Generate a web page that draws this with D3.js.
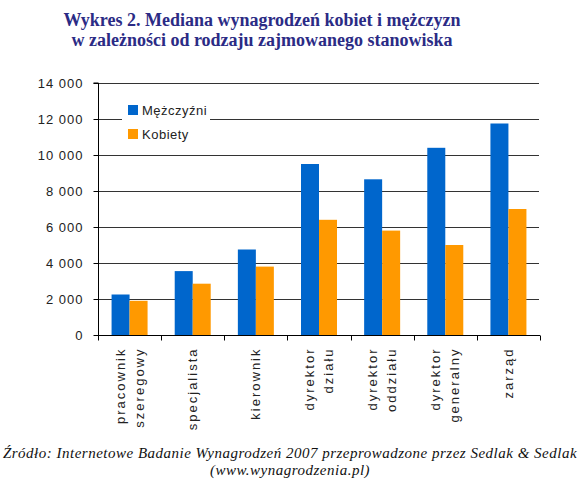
<!DOCTYPE html>
<html><head><meta charset="utf-8">
<script src="https://cdn.jsdelivr.net/npm/d3@7"></script>
<style>body{margin:0;background:#fff}svg{display:block}</style>
</head><body>
<svg id="c" width="580" height="485"></svg>
<script>
const categories = [["pracownik","szeregowy"],["specjalista"],["kierownik"],["dyrektor","działu"],["dyrektor","oddziału"],["dyrektor","generalny"],["zarząd"]];
const men   = [2250, 3550, 4750, 9500, 8650, 10400, 11750];
const women = [1900, 2850, 3800, 6400, 5800, 5000, 7000];
const seriesNames = ["Mężczyźni","Kobiety"];
const seriesColors = ["#0066cc","#ff9900"];
const yTicks = [0,2000,4000,6000,8000,10000,12000,14000];
const titleLines = ["Wykres 2. Mediana wynagrodzeń kobiet i mężczyzn","w zależności od rodzaju zajmowanego stanowiska"];
const sourceLines = ["Źródło: Internetowe Badanie Wynagrodzeń 2007 przeprowadzone przez Sedlak & Sedlak","(www.wynagrodzenia.pl)"];

const svg = d3.select("#c");
const L=98, R=540, T=83, B=335;
const x = d3.scaleBand().domain(d3.range(categories.length)).range([L,R]);
const y = d3.scaleLinear().domain([0,14000]).range([B,T]);
const fmt = v => d3.format(",")(v).replace(/,/g," ");

// title
svg.append("g").selectAll("text").data(titleLines).join("text")
  .attr("x",262).attr("y",(d,i)=>26+i*20).attr("text-anchor","middle")
  .attr("font-family","Liberation Serif, Times New Roman, serif").attr("font-weight","bold")
  .attr("font-size",18).attr("fill","#2b2b85").text(d=>d);

// gridlines
svg.append("g").selectAll("line").data(yTicks.filter(t=>t>0)).join("line")
  .attr("x1",L).attr("x2",R-1).attr("y1",d=>Math.round(y(d))+0.5).attr("y2",d=>Math.round(y(d))+0.5)
  .attr("stroke","#333").attr("stroke-width",1);

// y axis
const ya = svg.append("g").attr("transform",`translate(${L+0.5},0)`)
  .call(d3.axisLeft(y).tickValues(yTicks).tickFormat(fmt).tickSize(5).tickPadding(10));
ya.select(".domain").attr("stroke","#000").attr("d",`M-5,${T}H0V${B}`);
ya.selectAll(".tick line").attr("stroke","#000");
ya.selectAll("text").attr("font-family","Liberation Sans, Arial, sans-serif").attr("font-size",13)
  .attr("letter-spacing",1).attr("fill","#222");

// bars
const inner = d3.scaleBand().domain([0,1]).range([0,36]);
const groups = svg.append("g").selectAll("g").data(categories.map((c,i)=>i)).join("g")
  .attr("transform",i=>`translate(${x(i)+x.bandwidth()/2-18},0)`);
groups.selectAll("rect").data(i=>[men[i],women[i]]).join("rect")
  .attr("x",(d,j)=>inner(j)).attr("width",inner.bandwidth())
  .attr("y",d=>y(d)).attr("height",d=>B-y(d)).attr("fill",(d,j)=>seriesColors[j]);

// x axis
const xa = svg.append("g").attr("transform",`translate(0,${B+0.5})`);
xa.append("line").attr("x1",L).attr("x2",R).attr("stroke","#000");
xa.selectAll(".tk").data(d3.range(categories.length+1)).join("line").attr("class","tk")
  .attr("x1",i=>Math.round(L+i*x.bandwidth())+0.5).attr("x2",i=>Math.round(L+i*x.bandwidth())+0.5)
  .attr("y1",0).attr("y2",5).attr("stroke","#000");
const lab = xa.selectAll(".lab").data(categories).join("g").attr("class","lab")
  .attr("transform",(d,i)=>`translate(${x(i)+x.bandwidth()/2},12) rotate(-90)`);
lab.selectAll("text").data(d=>d.map((t,k)=>({t,k,n:d.length}))).join("text")
  .attr("text-anchor","end").attr("x",0)
  .attr("y",d=>(d.k-(d.n-1)/2)*19+4.5)
  .attr("font-family","Liberation Sans, Arial, sans-serif").attr("font-size",13)
  .attr("letter-spacing",2).attr("fill","#222").text(d=>d.t);

// legend
const lg = svg.append("g").attr("transform","translate(122,98)");
lg.append("rect").attr("width",88).attr("height",48).attr("fill","#fff");
const li = lg.selectAll(".li").data(seriesNames).join("g").attr("class","li")
  .attr("transform",(d,i)=>`translate(6,${7+i*24})`);
li.append("rect").attr("width",10).attr("height",10).attr("fill",(d,i)=>seriesColors[i]);
li.append("text").attr("x",14).attr("y",10).attr("font-family","Liberation Sans, Arial, sans-serif")
  .attr("font-size",13).attr("letter-spacing",0.5).attr("fill","#222").text(d=>d);

// source
svg.append("g").selectAll("text").data(sourceLines).join("text")
  .attr("x",290).attr("y",(d,i)=>458+i*17).attr("text-anchor","middle")
  .attr("font-family","Liberation Serif, Times New Roman, serif").attr("font-style","italic")
  .attr("font-size",15).attr("letter-spacing",0.5).attr("fill","#111").text(d=>d);
</script>
</body></html>
